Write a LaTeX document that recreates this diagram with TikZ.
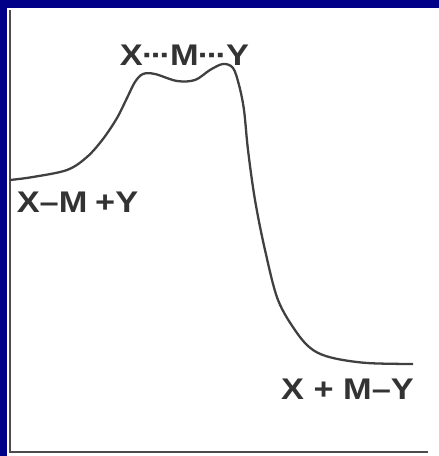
\documentclass[tikz,border=0pt]{standalone}
\usepackage{fontspec}
\setmainfont{Liberation Sans}
\newfontfamily\lblfont[FakeStretch=1.15]{Liberation Sans}
\definecolor{slideblue}{RGB}{0,0,136}
\newcommand{\dts}{\kern-0.5pt·\kern-1.5pt·\kern-1.5pt·\kern-0.5pt}

\begin{document}
\begin{tikzpicture}[lbl/.style={inner sep=0pt,text=black!80,font=\lblfont\fontsize{17}{20}\selectfont\bfseries}]
\fill[slideblue] (0,0) rectangle (8.780,9.120);
\fill[white] (0.140,0) rectangle (8.780,8.960);
% axes
\draw[line width=1.7pt,black!70] (0.200,8.920) -- (0.200,0.080) -- (8.560,0.080);
% energy profile
\draw[line width=1.3pt,black!75] plot[smooth,tension=0.55] coordinates {
 (0.200,5.520) (0.660,5.580) (1.340,5.720) (1.740,5.980) (2.060,6.340)
 (2.340,6.760) (2.540,7.160) (2.700,7.480) (2.860,7.640) (3.100,7.640)
 (3.540,7.500) (3.900,7.520) (4.200,7.720) (4.460,7.840) (4.660,7.760)
 (4.780,7.420) (4.880,6.920) (4.960,6.120) (5.100,5.120) (5.300,4.120)
 (5.560,3.120) (5.940,2.460) (6.260,2.120) (6.660,1.960) (7.340,1.860)
 (8.260,1.840)};
\node[lbl] (ts) at (3.690,8.020) {X\dts M\dts Y};
\node[lbl] (reac) at (1.550,5.070) {X–M\kern-1pt{} +Y};
\node[lbl] (prod) at (6.950,1.340) {X + M–Y};
\end{tikzpicture}
\end{document}
